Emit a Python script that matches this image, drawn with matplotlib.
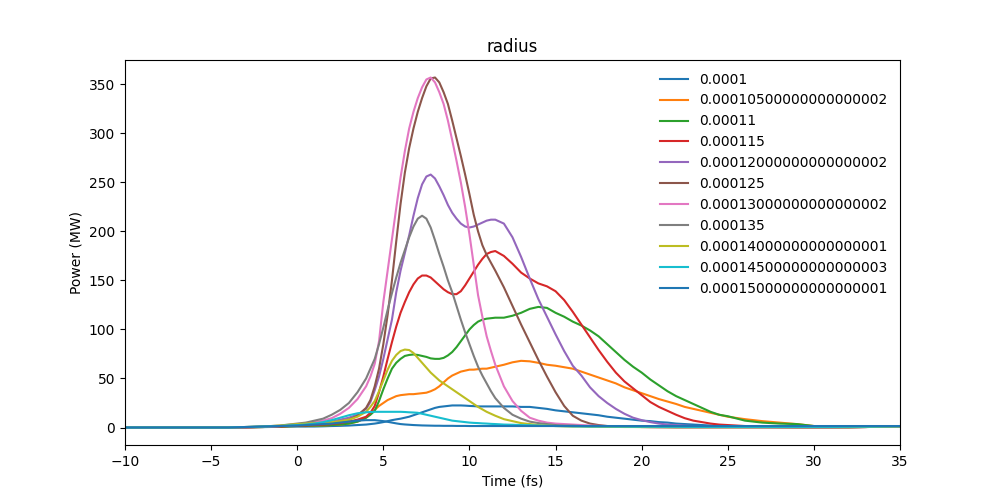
import numpy as np
import matplotlib
matplotlib.use("Agg")
import matplotlib.pyplot as plt

# time grid (fs): sparse tails, finer steps where the pulses are
t_left = [-10, -8, -6, -4, -3, -2, -1]
t_a = list(np.arange(0, 4, 0.5))        # 0 .. 3.5
t_b = list(np.arange(4, 11.75, 0.25))   # 4 .. 11.5
t_c = list(np.arange(12, 25.5, 0.5))    # 12 .. 25
t_right = [26, 27, 28, 29, 30, 31, 32, 33, 34, 35]
time = np.array(t_left + t_a + t_b + t_c + t_right)

labels = ["0.0001", "0.00010500000000000002", "0.00011", "0.000115",
          "0.00012000000000000002", "0.000125", "0.00013000000000000002",
          "0.000135", "0.00014000000000000001", "0.00014500000000000003",
          "0.00015000000000000001"]

# power (MW), one list per radius
p_100 = [0, 0, 0, 0, 0.2, 0.4, 0.7,
         1, 1, 1, 1.2, 1.5, 1.7, 2, 2.5,
         3, 3.5, 4, 4.7, 5.5, 6.5, 7.5, 8.3, 9, 10, 11, 12.5, 14, 15.5, 17, 18.5,
         20, 21, 21.5, 22, 22.5, 22.5, 22.5, 22.3, 22, 21.8, 21.5, 21.5, 21.5, 21.5, 21.5,
         21.5, 21.5, 21, 21, 20, 19, 17.5, 16.5, 15.5, 14.5, 13.5, 12.5, 11, 10,
         9, 8, 7, 6.5, 5.5, 5, 4, 3.5, 3, 2.5, 2, 1.8, 1.5,
         1, 0.6, 0.4, 0.3, 0.3, 0.4, 0.6, 0.8, 1, 1.2]
p_105 = [0, 0, 0, 0, 0.2, 0.5, 1,
         1.5, 1.5, 2, 2, 2.5, 3, 4, 6,
         10, 14, 18, 22, 25, 28, 30, 32, 33, 33.5, 34, 34, 34.5, 35, 35.5, 37,
         39, 42, 46, 50, 53, 55, 57, 58, 59, 59, 59.5, 60, 60, 61, 62,
         64, 66.5, 68, 67.5, 66, 64, 63, 61.5, 60, 57, 54, 51, 48, 45,
         41, 38, 35, 32, 29, 26.5, 24, 21, 19, 17, 15, 13, 11,
         8.5, 6.5, 5, 3.5, 1.5, 0.5, 0.4, 0.6, 1, 1.5]
p_110 = [0, 0, 0, 0, 0.2, 0.5, 1,
         1.5, 1.5, 2, 2, 2.5, 3, 4, 6,
         10, 13, 17, 27, 39, 50, 60, 66, 70, 73, 74, 74.5, 74, 73, 72, 70.5,
         70, 70, 71, 73.5, 77, 82, 88, 94, 100, 104.5, 108, 110, 111, 111.5, 112,
         112, 114, 117, 121, 123, 122, 117, 113, 108, 104, 99, 93, 85, 77,
         69, 62, 56, 49, 43, 37, 32, 28, 24, 20, 16, 13, 11.5,
         7, 5, 4, 3.5, 1.5, 0.5, 0.4, 0.6, 1, 1.5]
p_115 = [0, 0, 0, 0, 0.2, 0.5, 1,
         2, 2, 2.5, 3, 3.5, 4.5, 6, 8,
         11, 15, 22, 36, 52, 70, 87, 103, 117, 128, 138, 146, 152, 155, 155, 153,
         149, 145, 141, 138, 136, 136, 139, 145, 152, 159, 166, 172, 177, 179, 180,
         175, 167, 158, 152, 147, 144, 139, 130, 118, 105, 92, 79, 67, 56,
         47, 40, 33, 26, 21, 17, 13, 9.5, 7, 5.5, 4, 3, 2.5,
         1.5, 1, 0.5, 0.3, 0.2, 0.2, 0.3, 0.5, 0.8, 1]
p_120 = [0, 0, 0, 0, 0.3, 0.7, 1.5,
         2.5, 3, 4, 5, 6, 8, 10, 13,
         19, 26, 38, 52, 70, 90, 110, 138, 160, 178, 196, 216, 234, 248, 256, 258,
         254, 246, 237, 227, 219, 213, 208, 205, 204, 205, 207, 209, 211, 212, 212,
         208, 194, 174, 152, 131, 113, 95, 78, 63, 53, 41, 32, 25, 19,
         14, 10, 7.5, 5.5, 4, 3, 2.5, 2, 1.5, 1.2, 1, 0.8, 0.6,
         0.4, 0.3, 0.2, 0.2, 0.2, 0.2, 0.3, 0.5, 0.8, 1]
p_125 = [0, 0, 0, 0, 0.3, 0.7, 1.2,
         2, 2.5, 3, 3.5, 4.5, 6, 8, 12,
         20, 28, 42, 60, 85, 115, 150, 190, 228, 260, 285, 305, 322, 336, 348, 356,
         357, 352, 342, 330, 313, 295, 277, 258, 238, 217, 200, 186, 176, 168, 160,
         143, 124, 105, 87, 69, 52, 36, 22, 12, 7, 4, 2.5, 1.5, 1.2,
         1, 0.8, 0.5, 0.4, 0.3, 0.3, 0.2, 0.2, 0.2, 0.2, 0.2, 0.2, 0.2,
         0.2, 0.2, 0.2, 0.2, 0.2, 0.2, 0.3, 0.5, 0.8, 1]
p_130 = [0, 0, 0, 0, 0.3, 0.8, 1.5,
         3, 4, 5.5, 7, 9.5, 14, 20, 29,
         42, 52, 65, 88, 128, 160, 192, 224, 255, 282, 305, 322, 336, 347, 355, 357,
         352, 342, 330, 313, 293, 272, 250, 225, 197, 166, 135, 113, 93, 78, 64,
         42, 27, 17, 10, 7, 5, 4, 3.5, 3, 2.5, 2, 1.7, 1.5, 1.2,
         1, 0.8, 0.5, 0.4, 0.3, 0.3, 0.2, 0.2, 0.2, 0.2, 0.2, 0.2, 0.2,
         0.2, 0.2, 0.2, 0.2, 0.2, 0.2, 0.3, 0.5, 0.8, 1]
p_135 = [0, 0, 0, 0, 0.5, 1, 2,
         4, 5, 7, 9, 13, 18, 25, 36,
         50, 60, 70, 85, 102, 120, 137, 153, 168, 181, 194, 205, 213, 216, 213, 204,
         191, 177, 164, 150, 138, 124, 110, 97, 85, 73, 62, 53, 45, 37, 30,
         20, 13, 9, 6, 4.5, 3.5, 2.5, 2, 2, 1.5, 1.5, 1.2, 1, 1,
         0.8, 0.8, 0.6, 0.5, 0.5, 0.4, 0.3, 0.3, 0.3, 0.3, 0.3, 0.3, 0.3,
         0.3, 0.3, 0.3, 0.3, 0.3, 0.3, 0.3, 0.5, 0.8, 1]
p_140 = [0, 0, 0, 0, 0.5, 1, 2,
         3.5, 4, 4.5, 5, 5.5, 6.5, 8, 11,
         16, 21, 27, 37, 48, 59, 68, 74, 78, 79.5, 79, 76, 71, 66, 61, 56,
         52, 48, 45, 42, 39, 36, 33, 30, 27, 24, 21, 18.5, 16, 14, 12,
         8.5, 6.5, 4.5, 3.5, 2.5, 2, 1.5, 1.2, 1, 1, 0.8, 0.8, 0.6, 0.6,
         0.5, 0.5, 0.4, 0.4, 0.4, 0.3, 0.3, 0.3, 0.3, 0.3, 0.3, 0.3, 0.3,
         0.3, 0.3, 0.3, 0.3, 0.3, 0.3, 0.3, 0.5, 0.8, 1]
p_145 = [0, 0, 0, 0, 0.5, 1, 1.5,
         2.5, 3, 4, 5.5, 7.5, 10, 12.5, 14.5,
         15.5, 15.8, 16, 16, 16, 16, 16, 16, 16, 15.8, 15.5, 15.3, 15, 14, 13, 12,
         11, 10, 9, 8, 7, 6.5, 6, 5.5, 5, 4.7, 4.5, 4.2, 4, 3.7, 3.5,
         3, 2.8, 2.5, 2.3, 2, 1.8, 1.5, 1.4, 1.2, 1.1, 1, 1, 1, 0.9,
         0.9, 0.8, 0.8, 0.8, 0.7, 0.7, 0.7, 0.6, 0.6, 0.6, 0.6, 0.6, 0.6,
         0.6, 0.6, 0.6, 0.6, 0.6, 0.6, 0.7, 0.8, 1, 1.2]
p_150 = [0, 0, 0, 0, 0.5, 1, 1.5,
         2, 2.5, 3, 3.5, 4, 5, 6, 7,
         7.5, 7.5, 7.5, 7, 6.5, 5.8, 5, 4.2, 3.5, 3.1, 2.8, 2.5, 2.3, 2.1, 2, 1.9,
         1.8, 1.8, 1.7, 1.7, 1.7, 1.6, 1.6, 1.6, 1.5, 1.5, 1.5, 1.5, 1.5, 1.5, 1.5,
         1.5, 1.5, 1.5, 1.5, 1.5, 1.5, 1.5, 1.5, 1.5, 1.5, 1.5, 1.5, 1.5, 1.5,
         1.5, 1.5, 1.5, 1.5, 1.5, 1.5, 1.5, 1.5, 1.5, 1.5, 1.5, 1.5, 1.5,
         1.5, 1.5, 1.5, 1.5, 1.5, 1.5, 1.5, 1.5, 1.5, 1.5]

series = [p_100, p_105, p_110, p_115, p_120, p_125, p_130,
          p_135, p_140, p_145, p_150]

fig, ax = plt.subplots(figsize=(10, 5), dpi=100)
for vals, lab in zip(series, labels):
    ax.plot(time, vals, label=lab)

ax.set_xlim(-10, 35)
ax.set_title("radius")
ax.set_xlabel("Time (fs)")
ax.set_ylabel("Power (MW)")
ax.legend(loc="upper right", frameon=False)
fig.savefig("out.png")
